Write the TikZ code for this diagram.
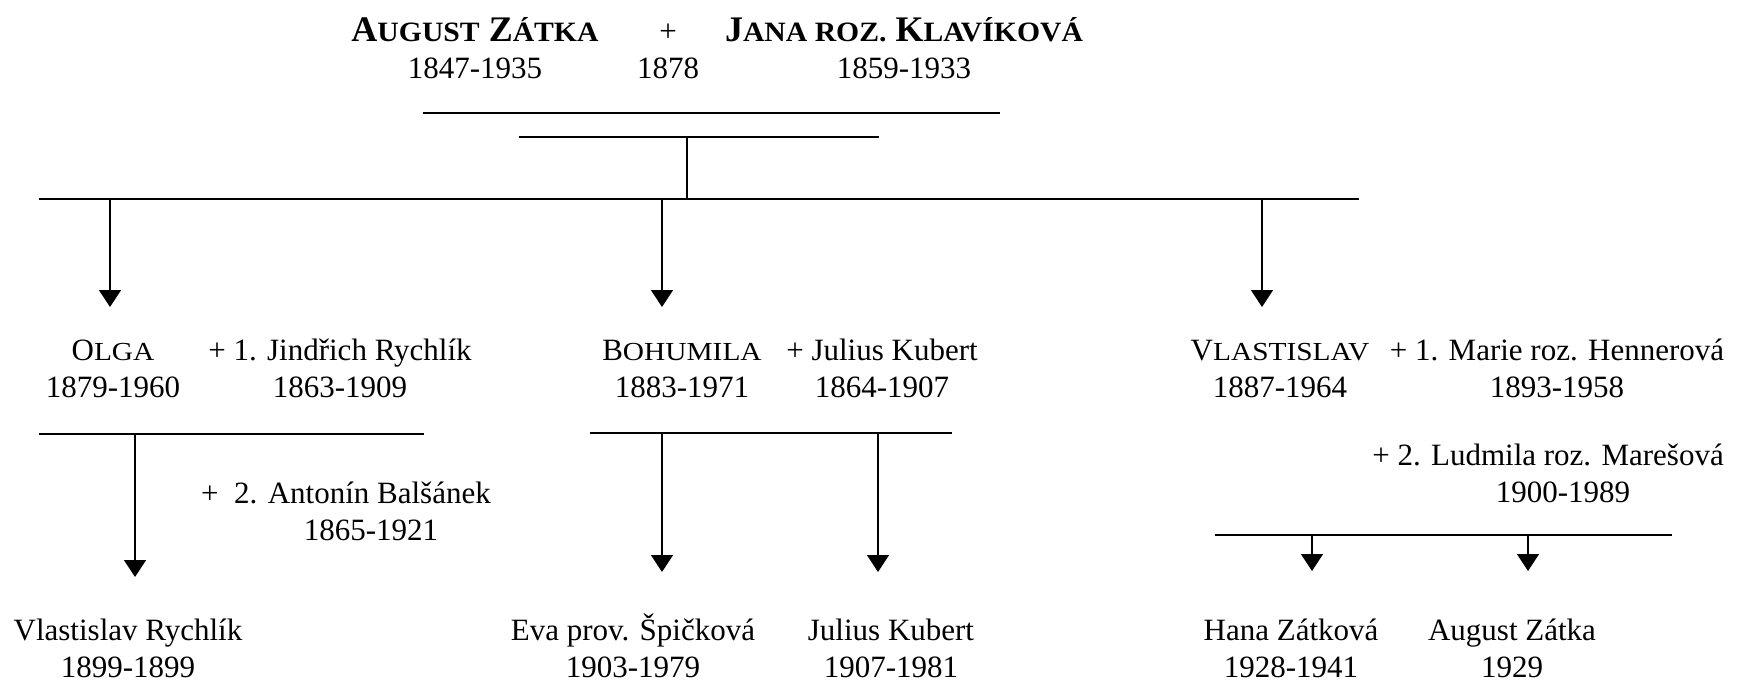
\documentclass[tikz,border=0pt]{standalone}
\usepackage{fontspec}
\setmainfont{Liberation Serif}
\usetikzlibrary{arrows.meta}
\newcommand{\lowcaps}[1]{{\fontsize{26}{37}\selectfont\addfontfeatures{FakeStretch=1.13}#1}}
\newcommand{\titlecaps}[1]{{\fontsize{28}{37}\selectfont\addfontfeatures{FakeStretch=1.06}#1}}
\tikzset{
  person/.style={anchor=south, inner sep=0pt, align=center, font=\fontsize{31}{37}\selectfont},
  bar/.style={line width=2pt},
  stem/.style={line width=1.3pt},
  drop/.style={line width=1.3pt, -{Triangle[width=22pt,length=17pt]}}
}
\begin{document}
\begin{tikzpicture}[x=1pt,y=-1pt]
\useasboundingbox (0,0) rectangle (1737,683);
% parents
\node[person] (august) at (475,79) {{\fontsize{36}{37}\selectfont\bfseries A\titlecaps{UGUST} Z\titlecaps{ÁTKA}}\\1847-1935};
\node[person] (wedding) at (668,79) {+\\1878};
\node[person] (jana) at (904,79) {{\fontsize{36}{37}\selectfont\bfseries J\titlecaps{ANA ROZ.} K\titlecaps{LAVÍKOVÁ}}\\1859-1933};
\draw[bar] (423,113) -- (1000,113);
\draw[bar] (519,137) -- (879,137);
\coordinate (wed) at (687,137);
\coordinate (kids) at (687,199);
\draw[stem] (wed) -- (kids);
\draw[bar] (39,199) -- (1359,199);
% children
\coordinate (o1) at (110,199); \coordinate (o2) at (110,307);
\coordinate (b1) at (662,199); \coordinate (b2) at (662,307);
\coordinate (v1) at (1262,199); \coordinate (v2) at (1262,307);
\draw[drop] (o1) -- (o2);
\draw[drop] (b1) -- (b2);
\draw[drop] (v1) -- (v2);
\node[person] (olga) at (113,398) {O\lowcaps{LGA}\\1879-1960};
\node[person] (jindrich) at (340,398) {+ 1. Jindřich Rychlík\\1863-1909};
\node[person] (bohumila) at (682,398) {B\lowcaps{OHUMILA}\\1883-1971};
\node[person] (kubert) at (882,398) {+ Julius Kubert\\1864-1907};
\node[person] (vlastislav) at (1280,398) {V\lowcaps{LASTISLAV}\\1887-1964};
\node[person] (marie) at (1557,398) {+ 1. Marie roz. Hennerová\\1893-1958};
\node[person] (balsanek) at (346,541) {+\ \ 2. Antonín Balšánek\\\hspace*{50pt}1865-1921};
\node[person] (ludmila) at (1548,503) {+ 2. Ludmila roz. Marešová\\\hspace*{30pt}1900-1989};
% Olga
\draw[bar] (39,434) -- (424,434);
\coordinate (r1) at (135,434); \coordinate (r2) at (135,577);
\draw[drop] (r1) -- (r2);
\node[person] (rychlik) at (128,678) {Vlastislav Rychlík\\1899-1899};
% Bohumila
\draw[bar] (590,433) -- (952,433);
\coordinate (e1) at (662,433); \coordinate (e2) at (662,572);
\coordinate (j1) at (878,433); \coordinate (j2) at (878,572);
\draw[drop] (e1) -- (e2);
\draw[drop] (j1) -- (j2);
\node[person] (eva) at (633,678) {Eva prov. Špičková\\1903-1979};
\node[person] (julius) at (891,678) {Julius Kubert\\1907-1981};
% Vlastislav
\draw[bar] (1215,535) -- (1672,535);
\coordinate (h1) at (1312,535); \coordinate (h2) at (1312,571);
\coordinate (a1) at (1528,535); \coordinate (a2) at (1528,571);
\draw[drop] (h1) -- (h2);
\draw[drop] (a1) -- (a2);
\node[person] (hana) at (1291,678) {Hana Zátková\\1928-1941};
\node[person] (augustjr) at (1512,678) {August Zátka\\1929};
\end{tikzpicture}
\end{document}
